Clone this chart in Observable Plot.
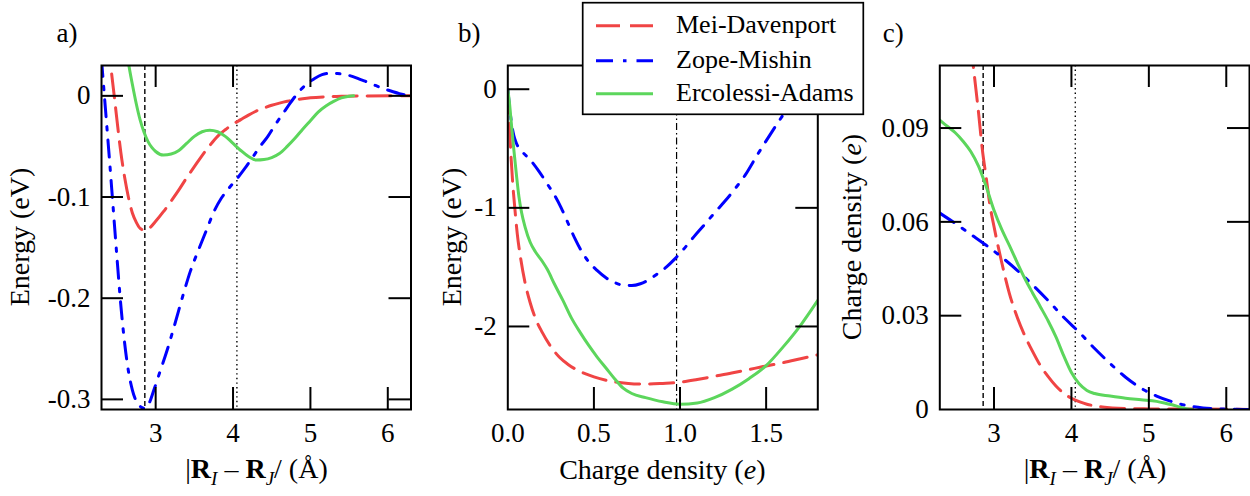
<!DOCTYPE html>
<html><head><meta charset="utf-8">
<script src="https://cdn.jsdelivr.net/npm/d3@7"></script>
<script src="https://cdn.jsdelivr.net/npm/@observablehq/plot@0.6"></script>
<style>
html,body{margin:0;padding:0;background:#fff;}
#wrap{position:relative;width:1250px;height:496px;overflow:hidden;font-family:"Liberation Serif","Times New Roman",serif;color:#000;}
</style></head><body><div id="wrap"></div>
<script>
// ---------- series meta ----------
const seriesNames = ["Mei-Davenport", "Zope-Mishin", "Ercolessi-Adams"];
const seriesColors = ["#f04444", "#0000ff", "#5cd65c"];
const seriesDash = ["24 10", "17 10 3.5 10", null];

// ---------- reference distances / densities ----------
const nnDistance = 2.86;   // dashed line
const latticeConst = 4.05; // dotted line
const bulkDensity = 0.98;  // dash-dot line in b

// ---------- panel a: pair energy (eV) vs |R_I - R_J| (Å) ----------
const aMeiDavenport = [[2.38,0.055],[2.42,0.029],[2.46,0.003],[2.50,-0.024],[2.55,-0.056],[2.60,-0.081],[2.65,-0.101],[2.70,-0.116],[2.75,-0.125],[2.80,-0.131],[2.86,-0.133],[2.93,-0.130],[3.0,-0.124],[3.1,-0.1145],[3.2,-0.104],[3.3,-0.093],[3.4,-0.081],[3.5,-0.070],[3.6,-0.059],[3.7,-0.049],[3.8,-0.040],[3.9,-0.0335],[4.0,-0.028],[4.1,-0.0235],[4.2,-0.019],[4.3,-0.015],[4.4,-0.012],[4.5,-0.0093],[4.6,-0.0072],[4.7,-0.0054],[4.8,-0.0039],[4.9,-0.0028],[5.0,-0.0019],[5.2,-0.0009],[5.4,-0.0004],[5.6,-0.0001],[6.3,0]];
const aZopeMishin = [[2.30,0.036],[2.35,-0.012],[2.40,-0.060],[2.45,-0.110],[2.50,-0.160],[2.55,-0.207],[2.60,-0.245],[2.65,-0.273],[2.70,-0.291],[2.75,-0.302],[2.80,-0.307],[2.86,-0.309],[2.92,-0.303],[2.98,-0.290],[3.05,-0.274],[3.15,-0.251],[3.25,-0.225],[3.35,-0.198],[3.45,-0.173],[3.55,-0.153],[3.65,-0.134],[3.75,-0.115],[3.85,-0.101],[3.95,-0.091],[4.05,-0.082],[4.15,-0.072],[4.25,-0.061],[4.35,-0.050],[4.45,-0.040],[4.55,-0.028],[4.65,-0.017],[4.75,-0.006],[4.85,0.004],[4.95,0.0115],[5.05,0.017],[5.15,0.021],[5.25,0.0222],[5.35,0.022],[5.45,0.021],[5.55,0.019],[5.65,0.016],[5.75,0.0132],[5.85,0.010],[5.95,0.007],[6.05,0.0045],[6.15,0.0022],[6.28,0.0002],[6.3,0]];
const aErcolessiAdams = [[2.63,0.042],[2.654,0.030],[2.70,0.011],[2.75,-0.008],[2.80,-0.024],[2.85,-0.036],[2.90,-0.045],[2.95,-0.051],[3.0,-0.055],[3.1,-0.0585],[3.2,-0.0575],[3.3,-0.054],[3.4,-0.047],[3.5,-0.040],[3.6,-0.0355],[3.7,-0.034],[3.8,-0.0355],[3.9,-0.040],[4.0,-0.047],[4.1,-0.054],[4.2,-0.060],[4.3,-0.0635],[4.4,-0.063],[4.5,-0.061],[4.6,-0.057],[4.7,-0.050],[4.8,-0.042],[4.9,-0.033],[5.0,-0.0245],[5.1,-0.016],[5.2,-0.010],[5.3,-0.0055],[5.4,-0.002],[5.5,-0.0003],[5.558,0]];

// ---------- panel b: embedding energy (eV) vs charge density (e) ----------
const bMeiDavenport = [[0,0],[0.005,-0.15],[0.01,-0.32],[0.02,-0.60],[0.03,-0.82],[0.04,-0.99],[0.055,-1.22],[0.075,-1.43],[0.1,-1.63],[0.13,-1.80],[0.16,-1.93],[0.2,-2.05],[0.25,-2.17],[0.3,-2.26],[0.35,-2.32],[0.42,-2.38],[0.5,-2.425],[0.6,-2.462],[0.7,-2.48],[0.8,-2.486],[0.9,-2.48],[1.0,-2.47],[1.1,-2.447],[1.2,-2.42],[1.3,-2.393],[1.4,-2.363],[1.5,-2.333],[1.6,-2.305],[1.7,-2.272],[1.8,-2.239]];
const bZopeMishin = [[0,0],[0.01,-0.15],[0.02,-0.27],[0.035,-0.39],[0.05,-0.455],[0.08,-0.52],[0.13,-0.595],[0.18,-0.69],[0.23,-0.80],[0.27,-0.89],[0.31,-1.00],[0.35,-1.13],[0.39,-1.26],[0.43,-1.37],[0.47,-1.455],[0.52,-1.53],[0.57,-1.59],[0.62,-1.63],[0.67,-1.652],[0.72,-1.655],[0.77,-1.64],[0.82,-1.605],[0.87,-1.555],[0.92,-1.50],[0.97,-1.43],[1.02,-1.35],[1.08,-1.245],[1.14,-1.145],[1.2,-1.043],[1.26,-0.945],[1.32,-0.838],[1.38,-0.72],[1.44,-0.575],[1.5,-0.435],[1.56,-0.30],[1.62,-0.17],[1.68,-0.04],[1.74,0.09],[1.8,0.22]];
const bErcolessiAdams = [[0,0],[0.01,-0.12],[0.02,-0.28],[0.035,-0.51],[0.05,-0.72],[0.065,-0.91],[0.08,-1.04],[0.1,-1.16],[0.13,-1.29],[0.16,-1.37],[0.2,-1.45],[0.23,-1.52],[0.27,-1.64],[0.32,-1.78],[0.37,-1.93],[0.42,-2.05],[0.47,-2.16],[0.52,-2.26],[0.57,-2.35],[0.62,-2.44],[0.67,-2.52],[0.72,-2.565],[0.8,-2.60],[0.9,-2.635],[1.0,-2.655],[1.1,-2.645],[1.2,-2.60],[1.3,-2.53],[1.4,-2.44],[1.5,-2.33],[1.6,-2.17],[1.7,-1.99],[1.8,-1.78]];

// ---------- panel c: charge density (e) vs |R_I - R_J| (Å) ----------
const cMeiDavenport = [[2.70,0.117],[2.75,0.106],[2.80,0.095],[2.85,0.083],[2.90,0.074],[2.95,0.065],[3.0,0.0585],[3.1,0.047],[3.2,0.037],[3.3,0.0295],[3.4,0.0235],[3.5,0.0185],[3.6,0.014],[3.7,0.0105],[3.8,0.0075],[3.9,0.0052],[4.0,0.0036],[4.1,0.0025],[4.2,0.0017],[4.4,0.0008],[4.7,0.0003],[5.0,0.0002],[5.5,0.0002],[6.0,0.0001],[6.3,0]];
const cZopeMishin = [[2.3,0.0628],[2.5,0.0595],[2.7,0.056],[2.9,0.0525],[3.1,0.0487],[3.3,0.0445],[3.5,0.0398],[3.7,0.0348],[3.9,0.0295],[4.1,0.0247],[4.3,0.0195],[4.5,0.0147],[4.7,0.0103],[4.9,0.0068],[5.1,0.0043],[5.3,0.0025],[5.5,0.0012],[5.7,0.0005],[5.9,0.0002],[6.1,0.00005],[6.28,0]];
const cErcolessiAdams = [[2.3,0.0925],[2.4,0.0905],[2.5,0.0885],[2.6,0.0858],[2.7,0.0825],[2.8,0.0778],[2.9,0.0712],[3.0,0.0637],[3.1,0.0576],[3.2,0.0524],[3.3,0.047],[3.4,0.0418],[3.5,0.0372],[3.6,0.0328],[3.7,0.0283],[3.8,0.0232],[3.9,0.0172],[4.0,0.0118],[4.1,0.0082],[4.2,0.0061],[4.3,0.0051],[4.5,0.0043],[4.7,0.0036],[4.9,0.0031],[5.1,0.0026],[5.2,0.0021],[5.3,0.0015],[5.4,0.0008],[5.5,0.0002],[5.558,0]];

// ---------- ticks ----------
const aXTicks = [3, 4, 5, 6], aYTicks = [0, -0.1, -0.2, -0.3];
const bXTicks = [0.5, 1.0, 1.5], bXLabels = [0, 0.5, 1.0, 1.5], bYTicks = [0, -1, -2];
const cXTicks = [3, 4, 5, 6], cYTicks = [0.03, 0.06, 0.09], cYLabels = [0, 0.03, 0.06, 0.09];

// ---------- helpers ----------
const wrap = document.getElementById("wrap");
const TOP = 65, BOTTOM = 87, H = 496, INNER_H = H - TOP - BOTTOM, TL = 22;
const SERIF = "'Liberation Serif','Times New Roman',serif";

function seriesMarks(list) {
  return list.map((data, i) => Plot.line(data, {
    x: d => d[0], y: d => d[1], stroke: seriesColors[i], strokeWidth: 3,
    strokeDasharray: seriesDash[i] || undefined, curve: "monotone-x", clip: true
  }));
}
function frameTicks(xt, yt, innerW) {
  const o = {stroke: "black", strokeWidth: 2};
  return [
    Plot.tickX(xt, {x: d => d, insetTop: INNER_H - TL, ...o}),
    Plot.tickX(xt, {x: d => d, insetBottom: INNER_H - TL, ...o}),
    Plot.tickY(yt, {y: d => d, insetRight: innerW - TL, ...o}),
    Plot.tickY(yt, {y: d => d, insetLeft: innerW - TL, ...o})
  ];
}
function panel({left, width, ml, mr, xd, yd, marks, xLab, yLab, xFmt, yFmt}) {
  const innerW = width - ml - mr;
  const svg = Plot.plot({
    width, height: H, marginLeft: ml, marginRight: mr, marginTop: TOP, marginBottom: BOTTOM,
    x: {domain: xd}, y: {domain: yd},
    style: {fontFamily: SERIF, fontSize: "27px", background: "transparent", color: "black", overflow: "visible"},
    marks: [
      ...marks(innerW),
      Plot.frame({stroke: "black", strokeWidth: 2}),
      Plot.axisX({ticks: xLab, anchor: "bottom", tickSize: 0, tickPadding: 13.5, label: null, tickFormat: xFmt, fontSize: 27}),
      Plot.axisY({ticks: yLab, anchor: "left", tickSize: 0, tickPadding: 11, label: null, tickFormat: yFmt, fontSize: 27})
    ]
  });
  svg.style.position = "absolute";
  svg.style.left = left + "px";
  svg.style.top = "0px";
  svg.style.maxWidth = "none";
  wrap.appendChild(svg);
  return d3.select(svg);
}
function distLabel(s, cx, by) {
  const t = s.append("text").attr("x", cx).attr("y", by).attr("text-anchor", "middle")
    .attr("font-size", 28).attr("fill", "black");
  t.append("tspan").text("|");
  t.append("tspan").attr("font-weight", "bold").text("R");
  t.append("tspan").attr("font-style", "italic").attr("font-size", 19).attr("dy", 7).text("I");
  t.append("tspan").attr("dy", -7).text(" – ");
  t.append("tspan").attr("font-weight", "bold").text("R");
  t.append("tspan").attr("font-style", "italic").attr("font-size", 19).attr("dy", 7).text("J");
  t.append("tspan").attr("dy", -7).text("/ (Å)");
}
function yLabel(s, bx, cy, parts) {
  const t = s.append("text").attr("transform", `translate(${bx},${cy}) rotate(-90)`)
    .attr("text-anchor", "middle").attr("font-size", 28).attr("fill", "black");
  parts.forEach(([txt, it]) => { const ts = t.append("tspan").text(txt); if (it) ts.attr("font-style", "italic"); });
}
function tagLabel(s, x, y, txt) {
  s.append("text").attr("x", x).attr("y", y).attr("font-size", 27).attr("fill", "black").text(txt);
}
const refDashed = {stroke: "black", strokeWidth: 1.4, strokeDasharray: "5 3"};
const refDotted = {stroke: "black", strokeWidth: 1.4, strokeDasharray: "1.4 3.2"};
const fmt = d => String(d);

// ---------- panel a ----------
const sa = panel({
  left: 0, width: 420, ml: 101, mr: 9.5, xd: [2.3, 6.3], yd: [-0.31, 0.03],
  xLab: aXTicks, yLab: aYTicks, xFmt: fmt, yFmt: fmt,
  marks: w => [
    Plot.ruleX([nnDistance], refDashed),
    Plot.ruleX([latticeConst], refDotted),
    ...seriesMarks([aMeiDavenport, aZopeMishin, aErcolessiAdams]),
    ...frameTicks(aXTicks, aYTicks, w)
  ]
});
tagLabel(sa, 67, 42, "a)");
yLabel(sa, 28.5, 237, [["Energy (eV)", false]]);
distLabel(sa, 256.5, 478);

// ---------- panel b ----------
const sb = panel({
  left: 420, width: 410, ml: 87.3, mr: 12.7, xd: [0, 1.8], yd: [-2.7, 0.2],
  xLab: bXLabels, yLab: bYTicks, xFmt: d3.format(".1f"), yFmt: fmt,
  marks: w => [
    Plot.ruleX([bulkDensity], {stroke: "black", strokeWidth: 1.2, strokeDasharray: "7 3 1.5 3"}),
    ...seriesMarks([bMeiDavenport, bZopeMishin, bErcolessiAdams]),
    ...frameTicks(bXTicks, bYTicks, w)
  ]
});
tagLabel(sb, 49.3, 42, "b)");
yLabel(sb, 40.7, 237, [["Energy (eV)", false]]);
sb.append("text").attr("x", 242.3).attr("y", 479).attr("text-anchor", "middle").attr("font-size", 28).attr("fill", "black")
  .call(t => { t.append("tspan").text("Charge density ("); t.append("tspan").attr("font-style", "italic").text("e"); t.append("tspan").text(")"); });

// ---------- panel c ----------
const sc = panel({
  left: 830, width: 420, ml: 109.3, mr: 1, xd: [2.3, 6.3], yd: [0, 0.11],
  xLab: cXTicks, yLab: cYLabels, xFmt: fmt, yFmt: fmt,
  marks: w => [
    Plot.ruleX([nnDistance], refDashed),
    Plot.ruleX([latticeConst], refDotted),
    ...seriesMarks([cMeiDavenport, cZopeMishin, cErcolessiAdams]),
    ...frameTicks(cXTicks, cYTicks, w)
  ]
});
tagLabel(sc, 63.3, 42, "c)");
yLabel(sc, 31, 237, [["Charge density (", false], ["e", true], [")", false]]);
distLabel(sc, 265, 478);

// ---------- legend ----------
const lg = d3.select(wrap).append("svg")
  .attr("width", 284).attr("height", 116)
  .style("position", "absolute").style("left", "581px").style("top", "1px");
lg.append("rect").attr("x", 1.7).attr("y", 1.7).attr("width", 280.6).attr("height", 111.6)
  .attr("fill", "white").attr("stroke", "black").attr("stroke-width", 1.7);
const rowY = [24.7, 59.7, 92.7];
seriesNames.forEach((name, i) => {
  lg.append("line").attr("x1", 15).attr("x2", 72).attr("y1", rowY[i]).attr("y2", rowY[i])
    .attr("stroke", seriesColors[i]).attr("stroke-width", 3)
    .attr("stroke-dasharray", seriesDash[i] || null);
  lg.append("text").attr("x", 95).attr("y", rowY[i] + 7).attr("font-size", 26)
    .attr("font-family", SERIF).attr("fill", "black").text(name);
});
</script>
</body></html>
